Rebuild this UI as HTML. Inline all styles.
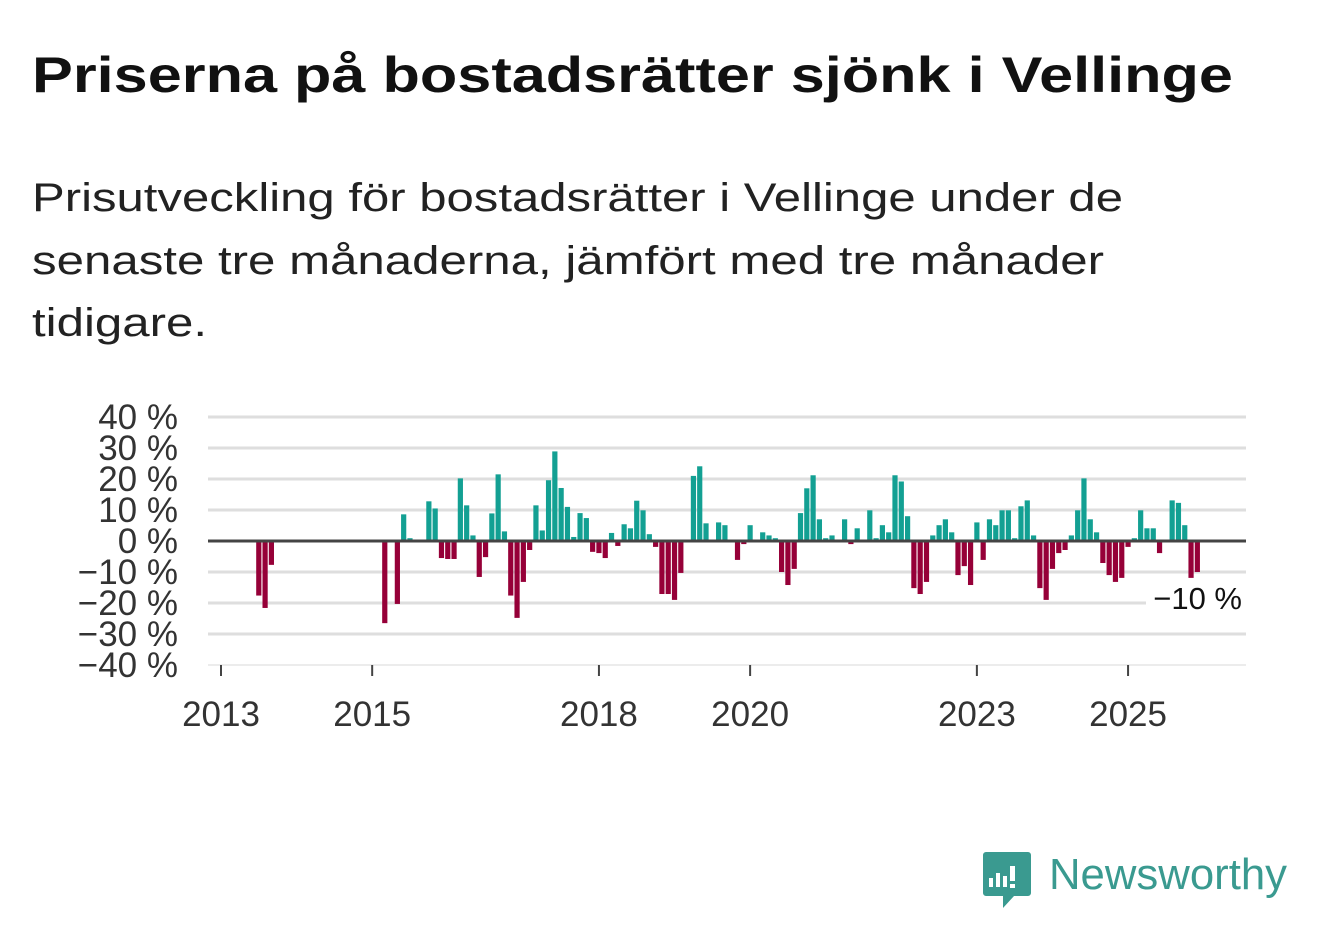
<!DOCTYPE html>
<html><head><meta charset="utf-8"><style>
html,body{margin:0;padding:0;background:#fff;}
svg{display:block;font-family:"Liberation Sans",sans-serif;}
</style></head><body>
<svg id="chart" width="1322" height="939" viewBox="0 0 1322 939" xmlns="http://www.w3.org/2000/svg">
<text x="32" y="92" font-size="50" font-weight="bold" fill="#111" textLength="1201" lengthAdjust="spacingAndGlyphs">Priserna på bostadsrätter sjönk i Vellinge</text>
<g font-size="40" fill="#222">
<text x="32" y="211" textLength="1091" lengthAdjust="spacingAndGlyphs">Prisutveckling för bostadsrätter i Vellinge under de</text>
<text x="32" y="274" textLength="1072" lengthAdjust="spacingAndGlyphs">senaste tre månaderna, jämfört med tre månader</text>
<text x="32" y="336" textLength="175" lengthAdjust="spacingAndGlyphs">tidigare.</text>
</g>
<g id="grid"></g>
<g id="yticks"></g>
<g id="bars"></g>
<g id="xaxis"></g>
<rect x="1146" y="582" width="100" height="34" fill="#fff"/>
<text x="1242" y="609" font-size="31" fill="#111" text-anchor="end">−10 %</text>
<g>
<path d="M986 852 h42 a3 3 0 0 1 3 3 v38 a3 3 0 0 1 -3 3 h-14 l-11 12 v-12 h-17 a3 3 0 0 1 -3 -3 v-38 a3 3 0 0 1 3 -3z" fill="#3a9a90"/>
<rect x="989" y="878" width="4" height="9" fill="#fff"/>
<rect x="996" y="873" width="4" height="14" fill="#fff"/>
<rect x="1003" y="876" width="4" height="11" fill="#fff"/>
<rect x="1010" y="866" width="5" height="15" fill="#fff"/>
<rect x="1010" y="884" width="5" height="4" fill="#fff"/>
<text x="1049" y="889" font-size="44" fill="#3a9a90" textLength="238" lengthAdjust="spacingAndGlyphs">Newsworthy</text>
</g>
</svg>
<script>
const months = ["2013-07","2013-08","2013-09","2015-03","2015-05","2015-06","2015-07","2015-10","2015-11","2015-12","2016-01","2016-02","2016-03","2016-04","2016-05","2016-06","2016-07","2016-08","2016-09","2016-10","2016-11","2016-12","2017-01","2017-02","2017-03","2017-04","2017-05","2017-06","2017-07","2017-08","2017-09","2017-10","2017-11","2017-12","2018-01","2018-02","2018-03","2018-04","2018-05","2018-06","2018-07","2018-08","2018-09","2018-10","2018-11","2018-12","2019-01","2019-02","2019-04","2019-05","2019-06","2019-08","2019-09","2019-11","2019-12","2020-01","2020-03","2020-04","2020-05","2020-06","2020-07","2020-08","2020-09","2020-10","2020-11","2020-12","2021-01","2021-02","2021-04","2021-05","2021-06","2021-08","2021-09","2021-10","2021-11","2021-12","2022-01","2022-02","2022-03","2022-04","2022-05","2022-06","2022-07","2022-08","2022-09","2022-10","2022-11","2022-12","2023-01","2023-02","2023-03","2023-04","2023-05","2023-06","2023-07","2023-08","2023-09","2023-10","2023-11","2023-12","2024-01","2024-02","2024-03","2024-04","2024-05","2024-06","2024-07","2024-08","2024-09","2024-10","2024-11","2024-12","2025-01","2025-02","2025-03","2025-04","2025-05","2025-06","2025-08","2025-09","2025-10","2025-11","2025-12"];
const values = [-17.6,-21.6,-7.7,-26.5,-20.3,8.6,0.9,12.8,10.5,-5.5,-5.8,-5.8,20.2,11.5,1.8,-11.6,-5.2,8.9,21.5,3.1,-17.6,-24.8,-13.2,-2.9,11.5,3.4,19.6,28.9,17.1,11,1.3,9.0,7.4,-3.5,-3.9,-5.5,2.6,-1.6,5.4,4.1,13.0,9.9,2.2,-1.9,-17.1,-17.1,-19.0,-10.3,21.0,24.1,5.7,6.0,5.1,-6.1,-1.0,5.1,2.8,1.8,0.9,-10,-14.2,-9.0,9.0,17.0,21.2,7.0,0.9,1.8,7.0,-1.0,4.1,9.9,0.9,5.1,2.8,21.2,19.2,8.0,-15.2,-17.1,-13.2,1.8,5.1,7.0,2.8,-11,-8.1,-14.2,6.0,-6.1,7.0,5.1,9.9,9.9,0.9,11.2,13.1,1.8,-15.2,-19,-9.0,-3.9,-2.9,1.8,9.9,20.2,7.0,2.8,-7.1,-11,-13.2,-11.9,-1.9,0.9,9.9,4.1,4.1,-3.9,13.1,12.3,5.1,-11.9,-10];
const yTicks = [40,30,20,10,0,-10,-20,-30,-40];
const yLabels = ["40 %","30 %","20 %","10 %","0 %","−10 %","−20 %","−30 %","−40 %"];
const xTickYears = [2013,2015,2018,2020,2023,2025];

const NS = "http://www.w3.org/2000/svg";
const X0 = 221, PITCH = 6.299, Y0 = 541, PX = 3.1;
function xScale(ym){const [y,m]=ym.split("-").map(Number);return X0+((y-2013)*12+(m-1))*PITCH;}
function yScale(v){return Y0 - v*PX;}
function mk(tag, attrs, parent){const e=document.createElementNS(NS,tag);for(const k in attrs)e.setAttribute(k,attrs[k]);parent.appendChild(e);return e;}

const grid=document.getElementById("grid"), yt=document.getElementById("yticks");
yTicks.forEach((t,i)=>{
  if(t!==0){
    const l=mk("line",{x1:208,x2:1246,y1:yScale(t),y2:yScale(t),stroke:t===-40?"#e6e6e6":"#dedede","stroke-width":t===-40?1.5:3},grid);
    
    
  }
  const tx=mk("text",{x:178,y:yScale(t)+12,"font-size":35,fill:"#333","text-anchor":"end"},yt);
  tx.textContent=yLabels[i];
  
  
});

const bars=document.getElementById("bars");
months.forEach((m,i)=>{
  const v=values[i], cx=xScale(m), y=yScale(v);
  const r=mk("rect",{x:cx-2.6,width:5.2,y:Math.min(y,Y0),height:Math.abs(Y0-y),fill:v>=0?"#13a093":"#960038"},bars);
  
  
});
const zl=mk("line",{x1:208,x2:1246,y1:Y0,y2:Y0,stroke:"#444","stroke-width":3},bars);



const xa=document.getElementById("xaxis");
xTickYears.forEach(yr=>{
  const x=xScale(yr+"-01");
  const t=mk("line",{x1:x,x2:x,y1:665,y2:676,stroke:"#444","stroke-width":2},xa);
  
  
  const tx=mk("text",{x:x,y:726,"font-size":35,fill:"#333","text-anchor":"middle"},xa);
  tx.textContent=String(yr);
  
  
});
</script>
</body></html>
